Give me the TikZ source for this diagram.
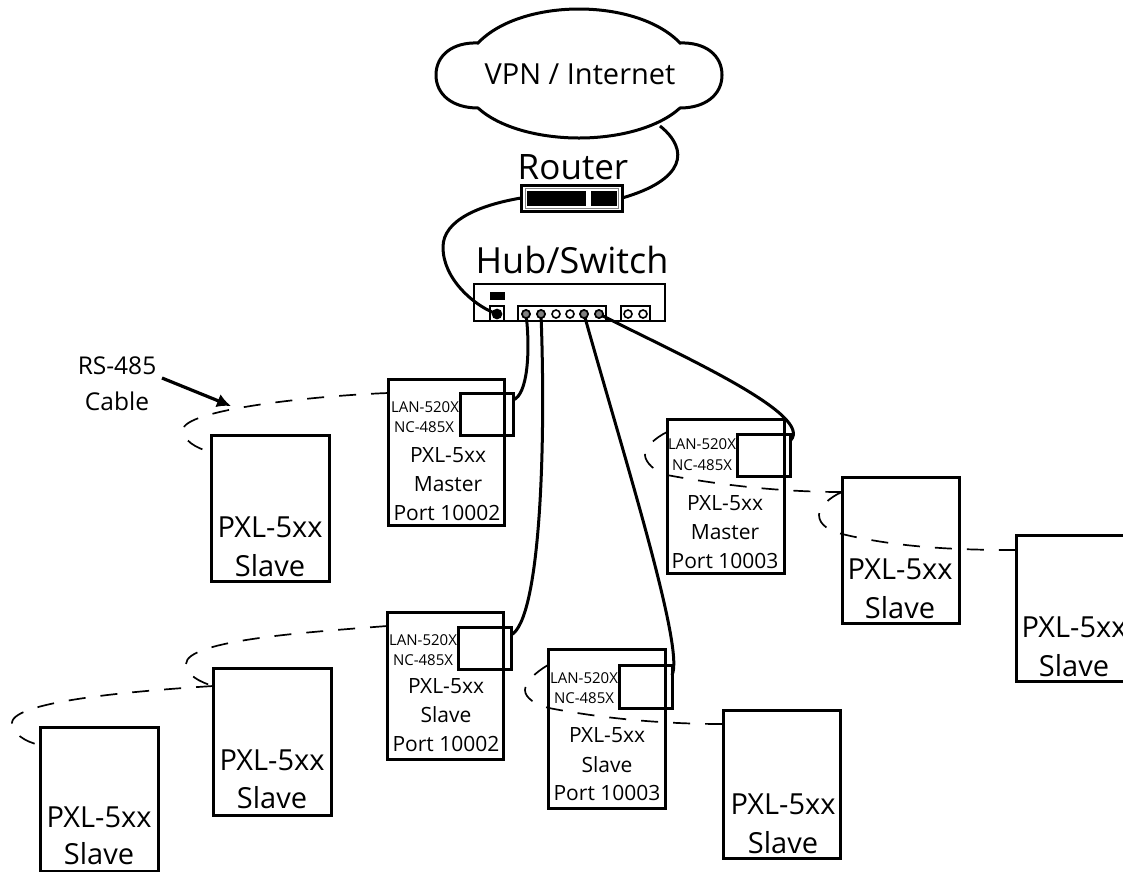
\documentclass[tikz,border=0pt]{standalone}
\usepackage{fontspec}
\setmainfont{Open Sans}
\usepackage{tikz}
\usetikzlibrary{arrows.meta}

\tikzset{
    devbox/.style={draw, line width=3pt, inner sep=0pt, outer sep=0pt},
    nicbox/.style={draw, line width=3pt, inner sep=0pt, outer sep=0pt, minimum width=53pt, minimum height=42pt},
    partbox/.style={draw, line width=1.6pt, inner sep=0pt, outer sep=0pt},
    swdot/.style={draw, circle, line width=1.6pt, minimum size=8pt, inner sep=0pt, outer sep=0pt},
    blackbar/.style={fill=black, inner sep=0pt, outer sep=0pt},
    cable/.style={line width=3pt},
    rsline/.style={line width=1.7pt, dash pattern=on 17pt off 15pt},
    bigtxt/.style={font=\fontsize{36}{40}\selectfont, inner sep=0pt},
    slavetxt/.style={font=\fontsize{29}{32}\selectfont, inner sep=0pt},
    mastertxt/.style={font=\fontsize{21}{24}\selectfont, inner sep=0pt},
    nictxt/.style={font=\fontsize{15}{16}\selectfont, inner sep=0pt}
}

\begin{document}
\begin{tikzpicture}[x=1pt, y=-1pt]
    \useasboundingbox (0, 0) rectangle (1123, 871);

    % cloud
    \draw [line width=3pt] (478, 43) .. controls (500, 20) and (540, 9) .. (579, 9)
        .. controls (618, 9) and (658, 20) .. (680, 43)
        .. controls (705, 42) and (722, 55) .. (722, 75)
        .. controls (722, 95) and (705, 108) .. (680, 108)
        .. controls (658, 128) and (618, 138) .. (579, 138)
        .. controls (540, 138) and (500, 128) .. (478, 108)
        .. controls (453, 108) and (436, 95) .. (436, 75)
        .. controls (436, 55) and (453, 42) .. (478, 43) -- cycle;
    \node (vpn) at (580, 74) [font=\fontsize{29}{34}\selectfont, inner sep=0pt] {VPN / Internet};
    \coordinate (cloudtap) at (660, 126);

    % router
    \node (routerlbl) at (573, 167) [bigtxt, font=\fontsize{35}{40}\selectfont] {Router};
    \node (router) at (571.5, 198) [devbox, minimum width=101pt, minimum height=26pt] {};
    \node (routerin) at (571.5, 198) [draw=gray, line width=1pt, minimum width=93pt, minimum height=20pt, inner sep=0pt] {};
    \node (routerA) at (556.5, 198.5) [blackbar, minimum width=59pt, minimum height=15pt] {};
    \node (routerB) at (604, 198.5) [blackbar, minimum width=26pt, minimum height=15pt] {};

    % hub
    \node (hublbl) at (572, 260) [bigtxt] {Hub/Switch};
    \node (hub) at (569.5, 302.5) [partbox, minimum width=191pt, minimum height=37pt] {};
    \node (hubbar) at (497.5, 296) [blackbar, minimum width=15pt, minimum height=8pt] {};
    \node (uplinkbox) at (497, 313.5) [partbox, minimum width=14pt, minimum height=15pt] {};
    \node (uplink) at (497, 314) [swdot, fill=black, minimum size=9pt] {};
    \node (swbox) at (562, 313.5) [partbox, minimum width=88pt, minimum height=15pt] {};
    \node (auxbox) at (635.5, 313.5) [partbox, minimum width=29pt, minimum height=15pt] {};
    \foreach \x [count=\i] in {526, 541, 556, 570, 584, 599}
        \node (sw\i) at (\x, 314) [swdot] {};
    \foreach \x [count=\i] in {628, 643}
        \node (aux\i) at (\x, 314) [swdot] {};
    \foreach \i in {1, 2, 5, 6}
        \node at (sw\i) [swdot, fill=gray] {};

    % masters and their slaves with the nic
    \node (masterA) at (446, 452) [devbox, minimum width=116pt, minimum height=146pt] {};
    \node (nicA) at (486.5, 414) [nicbox] {};
    \node (lanA) at (425, 407) [nictxt] {LAN-520X};
    \node (ncA) at (424, 427) [nictxt] {NC-485X};
    \node (pxlA) at (448, 455) [mastertxt] {PXL-5xx};
    \node (roleA) at (448, 484) [mastertxt] {Master};
    \node (portA) at (447, 513) [mastertxt] {Port 10002};

    \node (masterB) at (725.5, 496) [devbox, minimum width=117pt, minimum height=154pt] {};
    \node (nicB) at (764, 455.5) [nicbox] {};
    \node (lanB) at (702, 444) [nictxt] {LAN-520X};
    \node (ncB) at (702, 465) [nictxt] {NC-485X};
    \node (pxlB) at (725, 503) [mastertxt] {PXL-5xx};
    \node (roleB) at (725, 532) [mastertxt] {Master};
    \node (portB) at (725, 561) [mastertxt] {Port 10003};

    \node (masterC) at (445, 685.5) [devbox, minimum width=116pt, minimum height=147pt] {};
    \node (nicC) at (484.5, 648) [nicbox] {};
    \node (lanC) at (423, 640) [nictxt] {LAN-520X};
    \node (ncC) at (423, 660) [nictxt] {NC-485X};
    \node (pxlC) at (446, 686) [mastertxt] {PXL-5xx};
    \node (roleC) at (446, 715) [mastertxt] {Slave};
    \node (portC) at (446, 744) [mastertxt] {Port 10002};

    \node (masterD) at (606.5, 728.5) [devbox, minimum width=117pt, minimum height=159pt] {};
    \node (nicD) at (645.5, 686.5) [nicbox, minimum height=43pt] {};
    \node (lanD) at (584, 678) [nictxt] {LAN-520X};
    \node (ncD) at (584, 698) [nictxt] {NC-485X};
    \node (pxlD) at (607, 735) [mastertxt] {PXL-5xx};
    \node (roleD) at (607, 765) [mastertxt] {Slave};
    \node (portD) at (607, 793) [mastertxt] {Port 10003};

    % plain slaves
    \node (slaveA) at (270, 508) [devbox, minimum width=118pt, minimum height=146pt] {};
    \node (pxlE) at (270, 527) [slavetxt] {PXL-5xx};
    \node (roleE) at (270, 566) [slavetxt] {Slave};

    \node (slaveB) at (900.5, 550) [devbox, minimum width=117pt, minimum height=146pt] {};
    \node (pxlF) at (900, 569) [slavetxt] {PXL-5xx};
    \node (roleF) at (900, 608) [slavetxt] {Slave};

    \node (slaveC) at (1075, 608) [devbox, minimum width=118pt, minimum height=146pt] {};
    \node (pxlG) at (1074, 627) [slavetxt] {PXL-5xx};
    \node (roleG) at (1074, 666) [slavetxt] {Slave};

    \node (slaveD) at (272, 741.5) [devbox, minimum width=118pt, minimum height=147pt] {};
    \node (pxlH) at (272, 760) [slavetxt] {PXL-5xx};
    \node (roleH) at (272, 798) [slavetxt] {Slave};

    \node (slaveE) at (99, 799) [devbox, minimum width=118pt, minimum height=144pt] {};
    \node (pxlI) at (99, 817) [slavetxt] {PXL-5xx};
    \node (roleI) at (99, 854) [slavetxt] {Slave};

    \node (slaveF) at (781.5, 784) [devbox, minimum width=117pt, minimum height=148pt] {};
    \node (pxlJ) at (783, 804) [slavetxt] {PXL-5xx};
    \node (roleJ) at (783, 843) [slavetxt] {Slave};

    % solid cables
    \draw [cable] (cloudtap) .. controls (690, 150) and (685, 180) .. (router.east);
    \draw [cable] (router.west) .. controls (480, 205) and (443, 220) .. (443, 247)
        .. controls (443, 280) and (475, 305) .. (uplink);
    \draw [cable] (sw1) .. controls (530, 350) and (528, 395) .. ([yshift=-7pt]nicA.north east);
    \draw [cable] (sw2) .. controls (546, 450) and (540, 620) .. ([yshift=-8pt]nicC.north east);
    \draw [cable] (sw5) .. controls (625, 460) and (685, 650) .. ([yshift=-10pt]nicD.north east);
    \draw [cable] (sw6) .. controls (680, 355) and (815, 415) .. ([yshift=-6pt]nicB.north east);

    % dashed rs-485 runs
    \draw [rsline] ([yshift=-14pt]masterA.north west) .. controls (310, 396) and (183, 410) .. (183, 430)
        .. controls (183, 440) and (195, 448) .. ([yshift=-17pt]slaveA.north west);
    \draw [rsline] ([yshift=-14pt]masterC.north west) .. controls (310, 632) and (186, 640) .. (186, 664)
        .. controls (186, 675) and (200, 682) .. ([yshift=-18pt]slaveD.north west);
    \draw [rsline] ([yshift=-18pt]slaveD.north west) .. controls (150, 690) and (12, 700) .. (12, 723)
        .. controls (12, 733) and (25, 742) .. ([yshift=-18pt]slaveE.north west);
    \draw [rsline] ([yshift=-13pt]masterB.north west) .. controls (655, 438) and (645, 447) .. (645, 455)
        .. controls (645, 462) and (655, 472) .. (667, 475)
        .. controls (720, 485) and (780, 492) .. ([yshift=-15pt]slaveB.north west);
    \draw [rsline] ([yshift=-15pt]slaveB.north west) .. controls (830, 497) and (819, 507) .. (819, 515)
        .. controls (819, 525) and (830, 531) .. (842, 534)
        .. controls (900, 548) and (960, 550) .. ([yshift=-15pt]slaveC.north west);
    \draw [rsline] ([yshift=-16pt]masterD.north west) .. controls (536, 672) and (525, 682) .. (525, 690)
        .. controls (525, 698) and (536, 705) .. (549, 708)
        .. controls (600, 718) and (660, 724) .. ([yshift=-14pt]slaveF.north west);

    % callout
    \node (rslbl) at (117, 366) [font=\fontsize{24.5}{28}\selectfont, inner sep=0pt] {RS-485};
    \node (cablbl) at (117, 401) [font=\fontsize{24.5}{28}\selectfont, inner sep=0pt] {Cable};
    \coordinate (rstip) at (231, 406);
    \draw [-{Latex[length=14pt, width=14pt]}, line width=3.2pt] (162, 378) -- (rstip);
\end{tikzpicture}
\end{document}
